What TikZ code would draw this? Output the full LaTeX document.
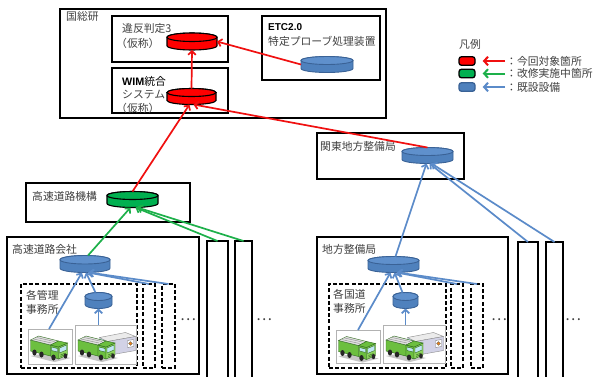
\documentclass[tikz,border=0pt]{standalone}
\usepackage{fontspec}
\setmainfont{Noto Sans CJK JP}
\newfontfamily\latinsans{Liberation Sans}
\usetikzlibrary{arrows.meta}

\definecolor{txtgray}{HTML}{404040}
\definecolor{arrred}{HTML}{F01010}
\definecolor{arrgreen}{HTML}{1DB04A}
\definecolor{arrblue}{HTML}{5B8BC9}
\definecolor{diskblue}{HTML}{4F81BD}
\definecolor{diskbluetop}{HTML}{5F90CC}
\definecolor{diskblueline}{HTML}{3A6296}
\definecolor{diskgreen}{HTML}{00B050}
\definecolor{tgreen}{HTML}{6CBF3F}
\definecolor{tgreenlt}{HTML}{8ED35E}
\definecolor{tdark}{HTML}{2F6A1E}
\definecolor{glass}{HTML}{BFE6F4}
\definecolor{lavender}{HTML}{D2D2E6}

% a flat database disk: name, centre x, centre y, width, height, colour prefix
\newcommand\dbdisk[6]{%
  \node[inner sep=0pt,outer sep=0pt,minimum width=#4pt,minimum height=#5pt] (#1) at (#2,#3) {};
  \begin{scope}[shift={(#2,#3)}]
    \pgfmathsetmacro\cylW{#4/2}%
    \pgfmathsetmacro\cylH{#5/2}%
    \pgfmathsetmacro\cylR{#5*0.25}%
    \filldraw[#6body] (-\cylW,-\cylH+\cylR) -- (-\cylW,\cylH-\cylR)
      arc[start angle=180,end angle=0,x radius=\cylW,y radius=\cylR]
      -- (\cylW,-\cylH+\cylR)
      arc[start angle=0,end angle=-180,x radius=\cylW,y radius=\cylR] -- cycle;
    \filldraw[#6top] (0,-\cylH+\cylR) ellipse[x radius=\cylW,y radius=\cylR];
  \end{scope}}

% a rectangle node from its corners: style, name, x1, y1, x2, y2
\newcommand\rectnode[6]{%
  \pgfmathsetmacro\rectW{#5-#3}%
  \pgfmathsetmacro\rectH{#6-#4}%
  \node[#1,inner sep=0pt,outer sep=0pt,minimum width=\rectW pt,minimum height=\rectH pt,anchor=north west] (#2) at (#3,#4) {};}

\tikzset{
  mainbox/.style={draw=black,line width=2.4pt},
  box/.style={draw=black,line width=1.5pt},
  thinbox/.style={draw=black,line width=1.5pt},
  dbox/.style={draw=black,line width=1.6pt,dash pattern=on 4pt off 2.2pt},
  framebox/.style={draw=black!30,line width=0.6pt,fill=white},
  lbl/.style={anchor=west,inner sep=0pt,text=txtgray,font=\fontsize{10.8}{12}\selectfont},
  dots/.style={inner sep=0pt,text=txtgray,font=\fontsize{15}{15}\selectfont},
  redarr/.style={draw=arrred,line width=1.7pt,-{Straight Barb[length=3.6pt,width=7.5pt]}},
  greenarr/.style={draw=arrgreen,line width=1.7pt,-{Straight Barb[length=3.6pt,width=7.5pt]}},
  bluearr/.style={draw=arrblue,line width=1.7pt,-{Straight Barb[length=3.6pt,width=7.5pt]}},
  legarr/.style={line width=2pt,-{Straight Barb[length=4pt,width=8.5pt]}},
  redbody/.style={fill=red,draw=black,line width=1.1pt},
  redtop/.style={fill=red,draw=black,line width=1.1pt},
  greenbody/.style={fill=diskgreen,draw=black,line width=1.1pt},
  greentop/.style={fill=diskgreen,draw=black,line width=1.1pt},
  bluebody/.style={fill=diskblue,draw=diskblueline,line width=0.9pt},
  bluetop/.style={fill=diskbluetop,draw=diskblueline,line width=0.9pt},
  legdisk/.style={minimum width=16pt,minimum height=8.5pt,rounded corners=2.5pt,inner sep=0pt,line width=1.3pt},
  truck/.pic={
    \fill[black!22] (1,25) -- (25,31) -- (41,27) -- (17,22) -- cycle;
    \filldraw[draw=tdark,fill=tgreen,line width=0.4pt] (1,9) -- (21,14) -- (21,25) -- (1,20) -- cycle;
    \filldraw[draw=tdark,fill=black!12,line width=0.4pt] (1,9) -- (9,5) -- (29,10) -- (21,14) -- cycle;
    \draw[black!45,line width=0.4pt] (4,8) -- (22,12) (7,6.5) -- (25,10.5);
    \filldraw[draw=tdark,fill=tgreen,line width=0.4pt] (21,14) -- (29,16) -- (29,28) -- (21,25) -- cycle;
    \filldraw[draw=tdark,fill=tgreenlt,line width=0.4pt] (29,16) -- (38,12) -- (38,24) -- (29,28) -- cycle;
    \filldraw[draw=tdark,fill=tgreen,line width=0.4pt] (21,14) -- (29,10) -- (38,12) -- (29,16) -- cycle;
    \filldraw[draw=tdark,fill=glass,line width=0.4pt] (30,17) -- (37,14) -- (37,19) -- (30,22) -- cycle;
    \filldraw[draw=tdark,fill=glass,line width=0.4pt] (22,16) -- (28,17.5) -- (28,21) -- (22,19.5) -- cycle;
    \draw[tdark,line width=0.4pt] (31,24) -- (36,22) (31,25.5) -- (36,23.5);
    \fill[black!85] (5,21.5) ellipse[x radius=2.2,y radius=3];
    \fill[black!85] (12,23.5) ellipse[x radius=2.2,y radius=3];
    \fill[black!85] (24,26.5) ellipse[x radius=2.2,y radius=3];
    \fill[black!85] (36,25) ellipse[x radius=1.8,y radius=2.6];
  },
  device/.pic={
    \filldraw[draw=black!45,fill=glass,line width=0.4pt] (0,6) -- (8,10) -- (8,24) -- (0,20) -- cycle;
    \filldraw[draw=black!45,fill=black!8,line width=0.4pt] (0,6) -- (26,1) -- (36,5) -- (8,10) -- cycle;
    \filldraw[draw=black!45,fill=lavender,line width=0.4pt] (8,10) -- (36,5) -- (36,19) -- (8,24) -- cycle;
    \filldraw[draw=black!50,fill=white,line width=0.4pt] (28,9) -- (34,8) -- (34,15) -- (28,16) -- cycle;
    \filldraw[draw=black!60,fill=orange!70!brown,line width=0.3pt] (31,12) circle[radius=1.8];
  }
}

\begin{document}
\begin{tikzpicture}[x=1pt,y=-1pt]
\useasboundingbox[fill=white] (0,0) rectangle (595,376);

% ---------------- 国総研 ----------------
\rectnode{mainbox}{nilim}{60}{9}{386}{118}
\node[lbl] (nilimT) at (66,16) {国総研};
\rectnode{box}{ihanbox}{112}{16}{228}{62}
\node[lbl] (ihanT1) at (122,28) {違反判定3};
\node[lbl] (ihanT2) at (116,43) {（仮称）};
\rectnode{box}{wimbox}{112}{68}{228}{113}
\node[lbl,text=black] (wimT1) at (122,81) {{\latinsans\bfseries WIM}統合};
\node[lbl] (wimT2) at (122,95) {システム};
\node[lbl] (wimT3) at (116,108) {（仮称）};
\rectnode{box}{etcbox}{262}{16}{380}{80}
\node[lbl,text=black] (etcT1) at (268,27) {\latinsans\bfseries\fontsize{10}{12}\selectfont ETC2.0};
\node[lbl] (etcT2) at (268,41) {特定プローブ処理装置};

\dbdisk{ihan}{192}{41.5}{50}{17}{red}
\dbdisk{wim}{191.5}{96.5}{49}{16}{red}
\dbdisk{etc}{327}{64.5}{52}{16}{blue}

% ---------------- legend ----------------
\node[lbl] (legT) at (459,44) {凡例};
\node[legdisk,fill=red,draw=black] (lg1) at (467,61) {};
\node[legdisk,fill=diskgreen,draw=black] (lg2) at (467,73.5) {};
\node[legdisk,fill=diskblue,draw=diskblueline] (lg3) at (467,87) {};
\node[lbl] (lt1) at (506,61) {：今回対象箇所};
\node[lbl] (lt2) at (506,73.5) {：改修実施中箇所};
\node[lbl] (lt3) at (506,87) {：既設設備};
\draw[legarr,draw=arrred] ([xshift=-1pt]lt1.west) -- ([xshift=7pt]lg1.east);
\draw[legarr,draw=arrgreen] ([xshift=-1pt]lt2.west) -- ([xshift=7pt]lg2.east);
\draw[legarr,draw=arrblue] ([xshift=-1pt]lt3.west) -- ([xshift=7pt]lg3.east);

% ---------------- expressway side ----------------
\rectnode{box}{kikobox}{26}{183}{190}{222}
\node[lbl] (kikoT) at (32,196) {高速道路機構};
\dbdisk{kiko}{132.5}{199.5}{51}{16}{green}

\rectnode{box}{kaishabox}{7}{237}{199}{374}
\node[lbl] (kaishaT) at (12,249) {高速道路会社};
\rectnode{thinbox}{ktb1}{207}{241}{228}{382}
\rectnode{thinbox}{ktb2}{235}{241}{252}{382}
\dbdisk{kaisha}{85}{264}{50}{17}{blue}

\rectnode{dbox}{kdb1}{21}{284}{137}{368}
\rectnode{dbox}{kdb2}{143}{284}{155}{368}
\rectnode{dbox}{kdb3}{162}{284}{175}{368}
\node[lbl] (kjT1) at (26,295) {各管理};
\node[lbl] (kjT2) at (26,309) {事務所};
\dbdisk{kj}{98.5}{300.5}{27}{16}{blue}

\rectnode{framebox}{ktr1}{28}{329}{72}{364}
\rectnode{framebox}{ktr2}{75}{325}{136}{364}
\pic at (29.5,331) {truck};
\pic at (99.5,331.5) {device};
\pic at (77,331) {truck};

\node[dots] (kdots1) at (188,320) {…};
\node[dots] (kdots2) at (264,320) {…};

% ---------------- national road side ----------------
\rectnode{box}{kantobox}{317}{133}{464}{179}
\node[lbl] (kantoT) at (320,146) {関東地方整備局};
\dbdisk{kanto}{427.5}{155.5}{51}{16}{blue}

\rectnode{box}{chihobox}{317}{237}{508}{374}
\node[lbl] (chihoT) at (322,249) {地方整備局};
\rectnode{thinbox}{ctb1}{518}{242}{538}{382}
\rectnode{thinbox}{ctb2}{546}{242}{563}{382}
\dbdisk{chiho}{393.5}{264.5}{51}{16}{blue}

\rectnode{dbox}{cdb1}{329}{284}{446}{368}
\rectnode{dbox}{cdb2}{451}{284}{463}{368}
\rectnode{dbox}{cdb3}{471}{284}{483}{368}
\node[lbl] (kokuT1) at (333,294) {各国道};
\node[lbl] (kokuT2) at (333,308) {事務所};
\dbdisk{koku}{405.5}{300.5}{25}{16}{blue}

\rectnode{framebox}{ctr1}{336}{330}{380}{363}
\rectnode{framebox}{ctr2}{383}{325}{445}{363}
\pic at (337.5,331.5) {truck};
\pic at (407.5,331.5) {device};
\pic at (385,331) {truck};

\node[dots] (cdots1) at (499,320) {…};
\node[dots] (cdots2) at (573,320) {…};

% ---------------- data flows ----------------
\draw[redarr] (wim.north) -- (ihan.south);
\draw[redarr] (etc.west) -- (ihan.east);
\draw[redarr] (kiko.north) -- ([xshift=-2pt]wim.south);
\draw[redarr] (kanto.north) -- ([xshift=2pt]wim.south);

\draw[greenarr] ([xshift=3pt]kaisha.north) -- ([xshift=-2pt]kiko.south);
\draw[greenarr] (ktb1.north) -- ([xshift=3pt]kiko.south);
\draw[greenarr] (ktb2.north) -- ([xshift=5pt]kiko.south);

\draw[bluearr] ([xshift=-1pt]ktr1.north) -- ([xshift=-3pt]kaisha.south);
\draw[bluearr] ([xshift=-3pt]kj.north) -- ([xshift=1pt]kaisha.south);
\draw[bluearr] (ktr2.north -| kj.south) -- (kj.south);
\draw[bluearr] (kdb2.north) -- ([xshift=3pt]kaisha.south);
\draw[bluearr] (kdb3.north) -- ([xshift=4pt]kaisha.south);

\draw[bluearr] ([xshift=2pt]chiho.north) -- ([xshift=-1pt]kanto.south);
\draw[bluearr] (ctb1.north) -- ([xshift=2pt]kanto.south);
\draw[bluearr] (ctb2.north) -- ([xshift=4pt]kanto.south);

\draw[bluearr] ([xshift=0pt]ctr1.north) -- ([xshift=-3pt]chiho.south);
\draw[bluearr] ([xshift=-3pt]koku.north) -- ([xshift=1pt]chiho.south);
\draw[bluearr] (ctr2.north -| koku.south) -- (koku.south);
\draw[bluearr] (cdb2.north) -- ([xshift=3pt]chiho.south);
\draw[bluearr] (cdb3.north) -- ([xshift=4pt]chiho.south);
\end{tikzpicture}
\end{document}
